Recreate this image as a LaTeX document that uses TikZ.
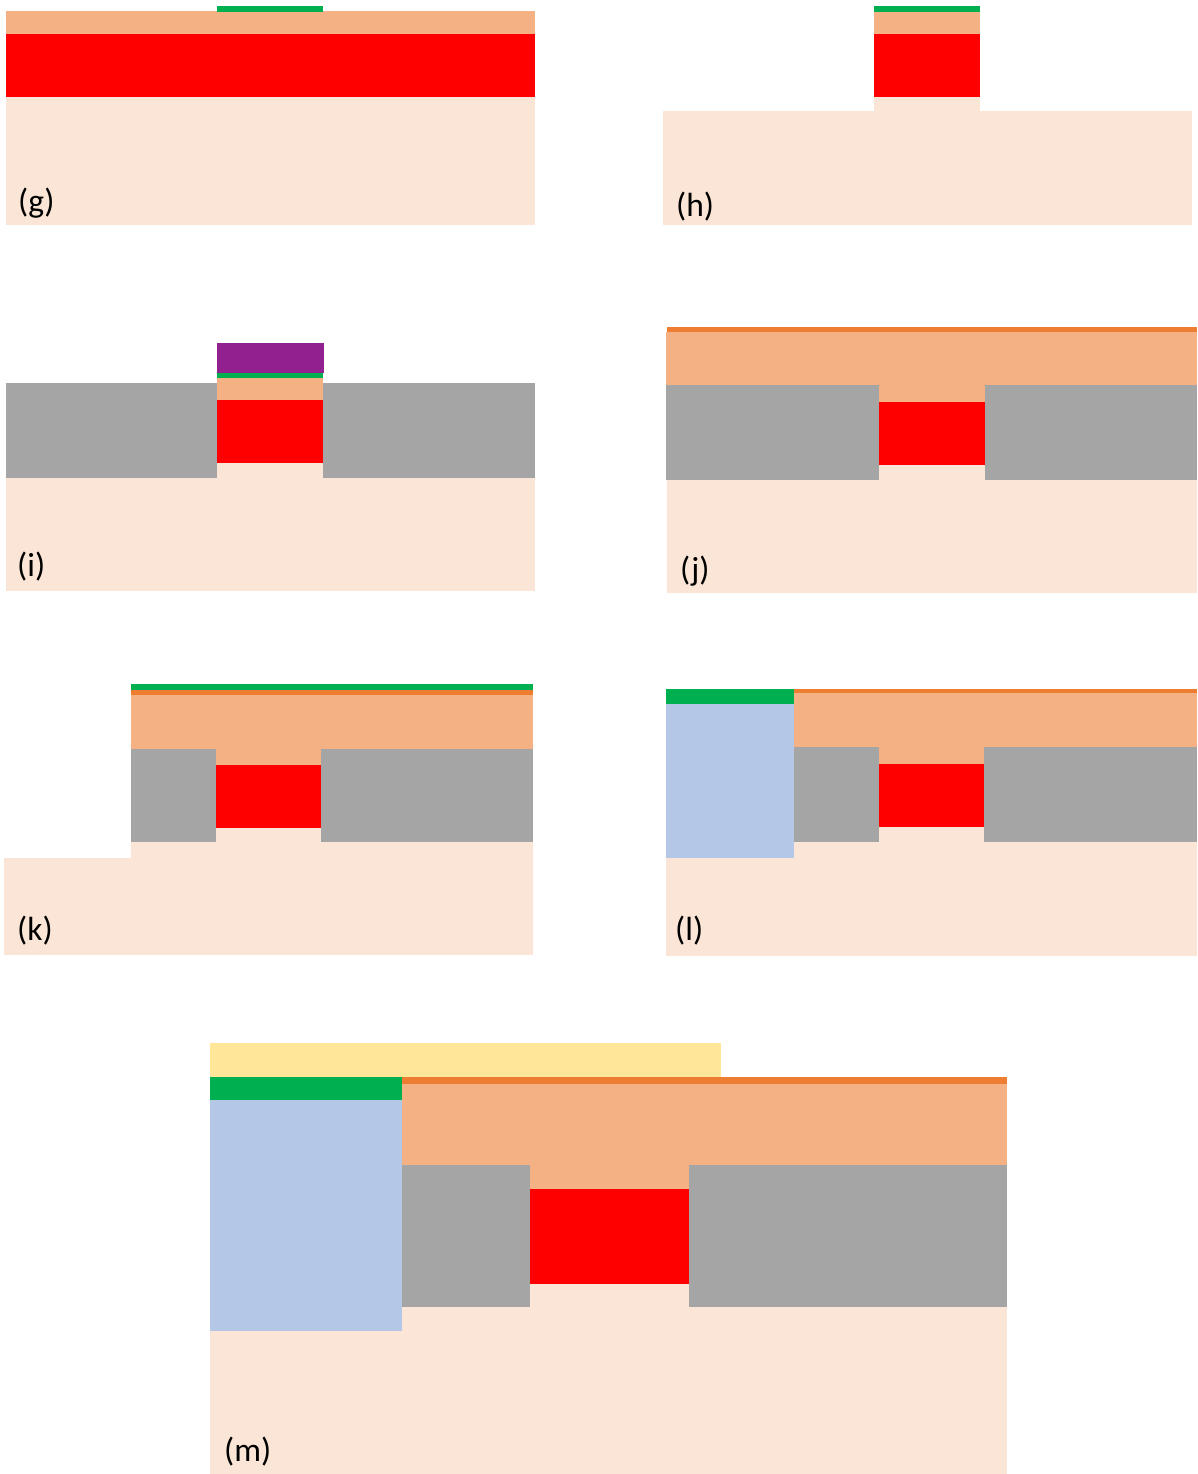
\documentclass[tikz,border=0pt]{standalone}
\usepackage{fontspec}
\setmainfont{Carlito}
\definecolor{sub}{HTML}{FBE5D6}
\definecolor{peach}{HTML}{F4B183}
\definecolor{orangeb}{HTML}{ED7D31}
\definecolor{redl}{HTML}{FF0000}
\definecolor{greenl}{HTML}{00B050}
\definecolor{grayl}{HTML}{A5A5A5}
\definecolor{bluel}{HTML}{B4C7E7}
\definecolor{yell}{HTML}{FFE699}
\definecolor{purp}{HTML}{93208F}
\newcommand{\bx}[5]{\fill[#5] (#1,#2) rectangle (#3,#4);}
\tikzset{panel label/.style={anchor=base west,inner sep=0pt,font=\fontsize{33.5}{38}\selectfont,text=black}}
\begin{document}
\begin{tikzpicture}[x=1pt,y=-1pt]
\useasboundingbox (0,0) rectangle (1197,1474);
% (g)
\bx{6}{97}{535}{224.7}{sub}
\bx{6}{34}{535}{97}{redl}
\bx{6}{11}{535}{34}{peach}
\bx{217}{6}{323}{12}{greenl}
\node[panel label] (g) at (18,212.5) {(g)};
% (h)
\bx{663}{111}{1192}{224.7}{sub}
\bx{874}{97}{980}{111}{sub}
\bx{874}{34}{980}{97}{redl}
\bx{874}{11}{980}{34}{peach}
\bx{874}{6}{980}{12}{greenl}
\node[panel label] (h) at (676,216.5) {(h)};
% (i)
\bx{6}{478}{535}{591}{sub}
\bx{217}{463}{323}{478}{sub}
\bx{6}{383}{217}{478}{grayl}
\bx{323}{383}{535}{478}{grayl}
\bx{217}{400}{323}{463}{redl}
\bx{217}{378}{323}{400}{peach}
\bx{217}{373}{323}{378}{greenl}
\bx{217}{343}{323.7}{373}{purp}
\node[panel label] (i) at (17,576.5) {(i)};
% (j)
\bx{667}{480}{1197}{593}{sub}
\bx{879}{465}{985}{480}{sub}
\bx{666}{332}{1197}{385}{peach}
\bx{879}{385}{985}{402}{peach}
\bx{666}{385}{879}{480}{grayl}
\bx{985}{385}{1197}{480}{grayl}
\bx{879}{402}{985}{465}{redl}
\bx{667}{327}{1197}{332}{orangeb}
\node[panel label] (j) at (680,580.5) {(j)};
% (k)
\bx{4}{858}{533}{955}{sub}
\bx{131}{842}{533}{858}{sub}
\bx{216}{828}{321}{842}{sub}
\bx{131}{695}{533}{749}{peach}
\bx{216}{749}{321}{765}{peach}
\bx{131}{749}{216}{842}{grayl}
\bx{321}{749}{533}{842}{grayl}
\bx{216}{765}{321}{828}{redl}
\bx{131}{690}{533}{695}{orangeb}
\bx{131}{684}{533}{690}{greenl}
\node[panel label] (k) at (17,940.5) {(k)};
% (l)
\bx{666}{842}{1197}{956}{sub}
\bx{879}{827}{984}{842}{sub}
\bx{666}{704}{794}{858}{bluel}
\bx{666}{689}{794}{704}{greenl}
\bx{794}{693}{1197}{747}{peach}
\bx{879}{747}{984}{764}{peach}
\bx{794}{689}{1197}{693}{orangeb}
\bx{794}{747}{879}{842}{grayl}
\bx{984}{747}{1197}{842}{grayl}
\bx{879}{764}{984}{827}{redl}
\node[panel label] (l) at (675,940.5) {(l)};
% (m)
\bx{210}{1307}{1007}{1474}{sub}
\bx{530}{1284}{689}{1307}{sub}
\bx{210}{1100}{402}{1331}{bluel}
\bx{210}{1077}{402}{1100}{greenl}
\bx{210}{1043}{721}{1077}{yell}
\bx{402}{1084}{1007}{1165}{peach}
\bx{530}{1165}{689}{1189}{peach}
\bx{402}{1077}{1007}{1084}{orangeb}
\bx{402}{1165}{530}{1307}{grayl}
\bx{689}{1165}{1007}{1307}{grayl}
\bx{530}{1189}{689}{1284}{redl}
\node[panel label] (m) at (224,1461.5) {(m)};
\end{tikzpicture}
\end{document}
